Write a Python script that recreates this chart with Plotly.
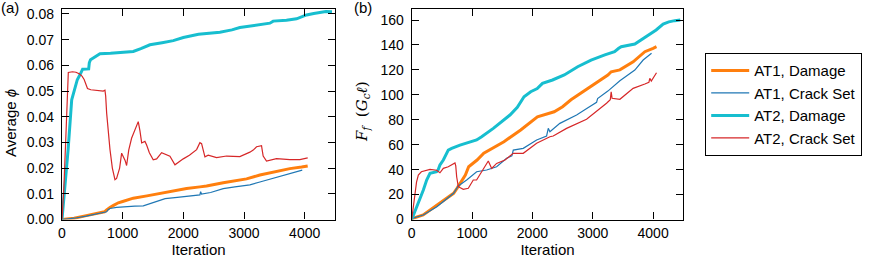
import plotly.graph_objects as go

# ---------------- data ----------------
# Panel (a): Average phi vs iteration
at1_dmg_a_it = [0, 200, 400, 600, 700, 736, 760, 790, 850, 928, 1000, 1175, 1400, 1614, 1850, 2054, 2273, 2383, 2658, 2850, 3042, 3262, 3481, 3756, 3950, 4050]
at1_dmg_a = [0, 0.0005, 0.0015, 0.0025, 0.003, 0.0037, 0.0042, 0.0047, 0.0055, 0.0065, 0.007, 0.0083, 0.0092, 0.0101, 0.0112, 0.0121, 0.0127, 0.0130, 0.0143, 0.0150, 0.0158, 0.0173, 0.0184, 0.0198, 0.0204, 0.0208]

at1_crk_a_it = [0, 200, 400, 600, 736, 760, 790, 900, 1065, 1200, 1340, 1500, 1669, 1700, 1900, 2100, 2273, 2285, 2300, 2450, 2658, 2850, 3097, 3262, 3371, 3550, 3701, 3850, 3960]
at1_crk_a = [0, 0.0005, 0.0013, 0.0022, 0.003, 0.0038, 0.0043, 0.0047, 0.0051, 0.0052, 0.0053, 0.0065, 0.0079, 0.0081, 0.0086, 0.0091, 0.0096, 0.0108, 0.0099, 0.0105, 0.0120, 0.0127, 0.0135, 0.0146, 0.0153, 0.0163, 0.0174, 0.0183, 0.0192]

at2_dmg_a_it = [0, 40, 100, 160, 220, 252, 300, 324, 340, 440, 450, 470, 520, 600, 626, 800, 1000, 1175, 1300, 1450, 1650, 1834, 2000, 2163, 2250, 2603, 2800, 2932, 3200, 3427, 3481, 3700, 3866, 4031, 4150, 4250, 4350, 4450]
at2_dmg_a = [0, 0.010, 0.027, 0.0466, 0.052, 0.0544, 0.0565, 0.0576, 0.0585, 0.0586, 0.0610, 0.0622, 0.0630, 0.0640, 0.0645, 0.0647, 0.0650, 0.0654, 0.0665, 0.068, 0.0688, 0.0696, 0.0708, 0.0718, 0.0721, 0.0729, 0.0738, 0.0747, 0.0756, 0.0764, 0.0772, 0.0775, 0.0781, 0.0796, 0.0802, 0.0807, 0.0809, 0.0808]

at2_crk_a_it = [0, 30, 60, 80, 104, 173, 230, 283, 330, 365, 420, 475, 560, 680, 708, 720, 736, 760, 791, 830, 873, 900, 950, 983, 1040, 1065, 1100, 1147, 1200, 1257, 1285, 1313, 1367, 1395, 1440, 1504, 1560, 1642, 1779, 1862, 1999, 2100, 2219, 2273, 2301, 2356, 2410, 2548, 2713, 2932, 3097, 3152, 3207, 3289, 3300, 3316, 3371, 3536, 3756, 3921, 4050]
at2_crk_a = [0, 0.012, 0.030, 0.045, 0.0572, 0.0575, 0.0573, 0.0567, 0.0558, 0.0545, 0.051, 0.0505, 0.0503, 0.0500, 0.0503, 0.048, 0.0414, 0.034, 0.0272, 0.020, 0.0155, 0.016, 0.020, 0.0258, 0.023, 0.0210, 0.027, 0.0316, 0.035, 0.0381, 0.0345, 0.0298, 0.0304, 0.0290, 0.026, 0.0232, 0.0236, 0.0260, 0.0246, 0.0213, 0.0236, 0.025, 0.0272, 0.0299, 0.0295, 0.0244, 0.0250, 0.0241, 0.0247, 0.0245, 0.0262, 0.027, 0.0283, 0.0287, 0.027, 0.0247, 0.0227, 0.0237, 0.0233, 0.0233, 0.024]

# Panel (b): F_f vs iteration
at1_dmg_b_it = [0, 20, 190, 417, 694, 750, 800, 889, 944, 1083, 1194, 1350, 1528, 1806, 2083, 2361, 2500, 2639, 2850, 3083, 3250, 3305, 3449, 3669, 3863, 4000, 4056]
at1_dmg_b = [0, 1, 3.6, 11.6, 21, 25, 29, 35.7, 42.3, 47.7, 53.1, 57.5, 62.4, 71.8, 82.4, 86.4, 90.5, 96, 103, 110.5, 115.9, 118.5, 120, 126.5, 134.6, 137.3, 138.6]

at1_crk_b_it = [0, 20, 190, 417, 694, 772, 911, 1076, 1242, 1407, 1573, 1660, 1683, 1848, 2070, 2235, 2263, 2290, 2455, 2732, 2900, 3063, 3080, 3250, 3449, 3697, 3835, 3974]
at1_crk_b = [0, 1, 3.6, 10.3, 21, 26.9, 31.7, 38.3, 39.7, 42.3, 49.1, 51, 55.7, 57.1, 63.8, 67, 73.1, 70.4, 77.1, 83.8, 89, 94, 97, 103, 111.3, 119.9, 127.9, 133.3]

at2_dmg_b_it = [0, 110, 193, 248, 303, 413, 440, 468, 524, 606, 662, 800, 950, 1076, 1159, 1352, 1628, 1750, 1861, 1972, 2080, 2167, 2333, 2528, 2750, 2972, 3200, 3361, 3430, 3472, 3697, 3800, 3945, 4050, 4166, 4260, 4359, 4450]
at2_dmg_b = [0, 13, 23.7, 31.7, 37, 38.3, 40, 43.7, 47.7, 55.7, 57.1, 59.7, 62, 63.8, 66.4, 73.1, 83.8, 90, 98.5, 102.5, 105, 109.2, 111.9, 115.9, 122.5, 127.9, 132, 134.6, 137.3, 138.6, 140.7, 144, 148, 152, 156.8, 158.5, 159.5, 160]

at2_crk_b_it = [0, 40, 80, 110, 160, 303, 413, 468, 524, 606, 689, 717, 730, 745, 772, 855, 938, 1020, 1075, 1159, 1269, 1325, 1407, 1545, 1683, 1848, 2070, 2290, 2345, 2566, 2897, 3228, 3290, 3305, 3320, 3449, 3669, 3863, 3930, 3945, 3970, 4056]
at2_crk_b = [0, 15, 30, 35.7, 38.3, 40.2, 39.5, 37.5, 41, 42.3, 44.5, 45.3, 43, 34.3, 26.3, 24.2, 25, 31.7, 31.7, 38.3, 46.9, 41, 45, 47.7, 53.1, 53.1, 61.1, 66.4, 67, 73.1, 80.4, 93.2, 96, 102.5, 97.2, 96.4, 105.2, 108.7, 110, 113.2, 111, 117.7]

names = ["AT1, Damage", "AT1, Crack Set", "AT2, Damage", "AT2, Crack Set"]
colors = ["#ff7f0e", "#1f77b4", "#17becf", "#d62728"]
widths = [3, 1.2, 3, 1.2]

x_ticks = [0, 1000, 2000, 3000, 4000]

# ---------------- figure ----------------
fig = go.Figure()

series_a = [(at1_dmg_a_it, at1_dmg_a), (at1_crk_a_it, at1_crk_a), (at2_dmg_a_it, at2_dmg_a), (at2_crk_a_it, at2_crk_a)]
series_b = [(at1_dmg_b_it, at1_dmg_b), (at1_crk_b_it, at1_crk_b), (at2_dmg_b_it, at2_dmg_b), (at2_crk_b_it, at2_crk_b)]

for i, (xs, ys) in enumerate(series_a):
    fig.add_trace(go.Scatter(x=xs, y=ys, mode="lines", name=names[i], legendgroup=names[i],
                             showlegend=False, line=dict(color=colors[i], width=widths[i]),
                             xaxis="x", yaxis="y"))
for i, (xs, ys) in enumerate(series_b):
    fig.add_trace(go.Scatter(x=xs, y=ys, mode="lines", name=names[i], legendgroup=names[i],
                             showlegend=True, line=dict(color=colors[i], width=widths[i]),
                             xaxis="x2", yaxis="y2"))

W, H = 871, 261
yd = [(H - 219.5) / H, 1 - 9.3 / H]
font = "Liberation Sans, Arial, Helvetica, sans-serif"

axis_common = dict(showline=True, linecolor="black", linewidth=1.3, mirror="ticks",
                   ticks="inside", ticklen=7, tickwidth=1, tickcolor="black",
                   showgrid=False, zeroline=False, automargin=False,
                   tickfont=dict(size=14, color="black", family=font))

fig.update_layout(
    template="none",
    width=W, height=H, autosize=False,
    margin=dict(l=0, r=0, t=0, b=0, pad=0),
    paper_bgcolor="white", plot_bgcolor="white",
    font=dict(family=font, size=15, color="black"),
    xaxis=dict(domain=[62 / W, 335 / W], range=[0, 4500], tickvals=x_ticks, anchor="y",
               ticklabelstandoff=1,
               title=dict(text="Iteration", standoff=2, font=dict(size=15)), **axis_common),
    yaxis=dict(domain=yd, range=[0, 0.0818], dtick=0.01, tickformat=".2f", anchor="x",
               ticklabelstandoff=4, **axis_common),
    xaxis2=dict(domain=[411.7 / W, 683.3 / W], range=[0, 4500], tickvals=x_ticks, anchor="y2",
                ticklabelstandoff=1,
                title=dict(text="Iteration", standoff=2, font=dict(size=15)), **axis_common),
    yaxis2=dict(domain=yd, range=[0, 168.6], dtick=20, anchor="x2",
                ticklabelstandoff=4, **axis_common),
    legend=dict(x=705 / W, y=1 - 53 / H, xanchor="left", yanchor="top",
                bordercolor="black", borderwidth=1.2, bgcolor="white",
                itemwidth=38,
                font=dict(size=15, family=font), tracegroupgap=0),
    annotations=[
        dict(text="(a)", x=0, y=1, xref="paper", yref="paper", xanchor="left", yanchor="top",
             showarrow=False, font=dict(size=15), xshift=-1, yshift=3),
        dict(text="(b)", x=352 / W, y=1, xref="paper", yref="paper", xanchor="left", yanchor="top",
             showarrow=False, font=dict(size=15), yshift=3),
        dict(text="Average <i>ϕ</i>", x=10 / W, y=1 - 123 / H, xref="paper", yref="paper",
             xanchor="center", yanchor="middle", textangle=-90, showarrow=False, font=dict(size=15)),
        dict(text="<i>F</i><sub><i>f</i></sub>  (<i>G</i><sub><i>c</i></sub><i>ℓ</i>)",
             x=362 / W, y=1 - 112 / H, xref="paper", yref="paper",
             xanchor="center", yanchor="middle", textangle=-90, showarrow=False,
             font=dict(size=15, family="DejaVu Serif, serif")),
    ],
)

fig.write_html("out.html", config={"displayModeBar": False},
               post_script="document.body.style.margin='0';")
